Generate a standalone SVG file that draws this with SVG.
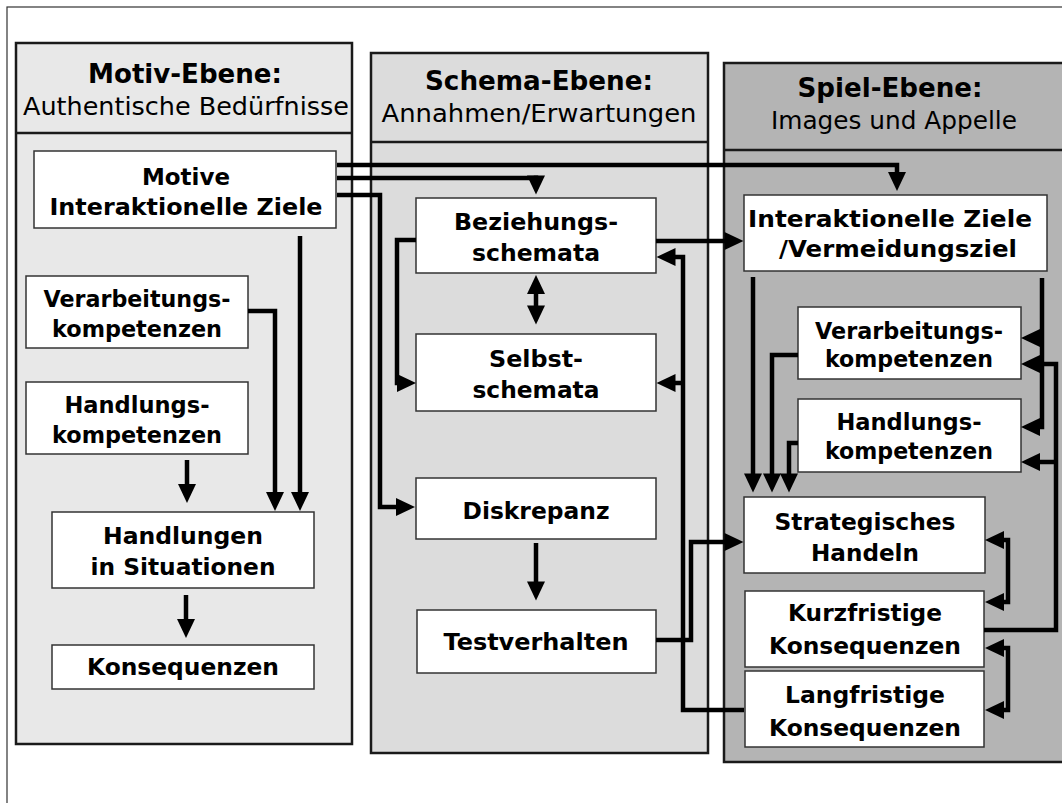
<svg xmlns="http://www.w3.org/2000/svg" width="1062" height="803" viewBox="0 0 1062 803">
<style>
.frame{fill:#fff;stroke:#333;stroke-width:1.2}
.panel{stroke:#1a1a1a;stroke-width:2.5}
.p1{fill:#e8e8e8}.p2{fill:#dcdcdc}.p3{fill:#b4b4b4}
.div{stroke:#1a1a1a;stroke-width:2.5}
.box{fill:#fff;stroke:#333;stroke-width:1.5}
text{font-family:"DejaVu Sans",Verdana,sans-serif;fill:#000;text-anchor:middle}
.t{font-size:23px;font-weight:bold}
.h{font-size:26px;font-weight:bold}
.s{font-size:25px}
.c{fill:none;stroke:#000;stroke-width:4.5;stroke-linejoin:miter}
</style>
<defs>
<marker id="ah" markerUnits="userSpaceOnUse" markerWidth="19" markerHeight="18" refX="0.5" refY="9" orient="auto-start-reverse" overflow="visible"><path d="M0,0 L19,9 L0,18 Z" fill="#000"/></marker>
</defs>
<rect x="0" y="0" width="1062" height="803" fill="#fff"/>
<rect class="frame" x="7" y="7" width="1100" height="900"/>

<g id="panel-motiv">
<rect class="panel p1" x="16" y="43" width="336" height="701"/>
<line class="div" x1="16" y1="133" x2="352" y2="133"/>
<text class="h" x="185" y="83" textLength="194" lengthAdjust="spacingAndGlyphs">Motiv-Ebene:</text>
<text class="s" x="186" y="115" textLength="326" lengthAdjust="spacingAndGlyphs">Authentische Bedürfnisse</text>
</g>
<g id="panel-schema">
<rect class="panel p2" x="371" y="53" width="337" height="700"/>
<line class="div" x1="371" y1="142" x2="708" y2="142"/>
<text class="h" x="539" y="90" textLength="228" lengthAdjust="spacingAndGlyphs">Schema-Ebene:</text>
<text class="s" x="539" y="122" textLength="315" lengthAdjust="spacingAndGlyphs">Annahmen/Erwartungen</text>
</g>
<g id="panel-spiel">
<rect class="panel p3" x="724" y="63" width="400" height="699"/>
<line class="div" x1="724" y1="150" x2="1124" y2="150"/>
<text class="h" x="890" y="97" textLength="185" lengthAdjust="spacingAndGlyphs">Spiel-Ebene:</text>
<text class="s" x="894" y="129" textLength="246" lengthAdjust="spacingAndGlyphs">Images und Appelle</text>
</g>

<g id="m-motive"><rect class="box" x="34" y="151" width="302" height="77"/>
<text class="t" x="186" y="185" textLength="88" lengthAdjust="spacingAndGlyphs">Motive</text>
<text class="t" x="186" y="215" textLength="273" lengthAdjust="spacingAndGlyphs">Interaktionelle Ziele</text></g>
<g id="m-verarb"><rect class="box" x="26" y="276" width="222" height="72"/>
<text class="t" x="137" y="307" textLength="187" lengthAdjust="spacingAndGlyphs">Verarbeitungs-</text>
<text class="t" x="137" y="337" textLength="170" lengthAdjust="spacingAndGlyphs">kompetenzen</text></g>
<g id="m-handl"><rect class="box" x="26" y="382" width="222" height="72"/>
<text class="t" x="137" y="413" textLength="145" lengthAdjust="spacingAndGlyphs">Handlungs-</text>
<text class="t" x="137" y="443" textLength="170" lengthAdjust="spacingAndGlyphs">kompetenzen</text></g>
<g id="m-handlungen"><rect class="box" x="52" y="512" width="262" height="76"/>
<text class="t" x="183" y="544" textLength="160" lengthAdjust="spacingAndGlyphs">Handlungen</text>
<text class="t" x="183" y="575" textLength="185" lengthAdjust="spacingAndGlyphs">in Situationen</text></g>
<g id="m-konseq"><rect class="box" x="52" y="645" width="262" height="44"/>
<text class="t" x="183" y="675" textLength="192" lengthAdjust="spacingAndGlyphs">Konsequenzen</text></g>

<g id="s-bez"><rect class="box" x="416" y="198" width="240" height="75"/>
<text class="t" x="536" y="230" textLength="164" lengthAdjust="spacingAndGlyphs">Beziehungs-</text>
<text class="t" x="536" y="261" textLength="128" lengthAdjust="spacingAndGlyphs">schemata</text></g>
<g id="s-selbst"><rect class="box" x="416" y="334" width="240" height="77"/>
<text class="t" x="536" y="367" textLength="94" lengthAdjust="spacingAndGlyphs">Selbst-</text>
<text class="t" x="536" y="398" textLength="127" lengthAdjust="spacingAndGlyphs">schemata</text></g>
<g id="s-diskr"><rect class="box" x="416" y="478" width="240" height="61"/>
<text class="t" x="536" y="519" textLength="147" lengthAdjust="spacingAndGlyphs">Diskrepanz</text></g>
<g id="s-test"><rect class="box" x="417" y="610" width="239" height="63"/>
<text class="t" x="536" y="650" textLength="185" lengthAdjust="spacingAndGlyphs">Testverhalten</text></g>

<g id="g-ziele"><rect class="box" x="744" y="195" width="303" height="76"/>
<text class="t" x="890" y="227" textLength="284" lengthAdjust="spacingAndGlyphs">Interaktionelle Ziele</text>
<text class="t" x="898" y="257" textLength="238" lengthAdjust="spacingAndGlyphs">/Vermeidungsziel</text></g>
<g id="g-verarb"><rect class="box" x="798" y="307" width="223" height="72"/>
<text class="t" x="909" y="339" textLength="188" lengthAdjust="spacingAndGlyphs">Verarbeitungs-</text>
<text class="t" x="909" y="367" textLength="168" lengthAdjust="spacingAndGlyphs">kompetenzen</text></g>
<g id="g-handl"><rect class="box" x="798" y="399" width="223" height="73"/>
<text class="t" x="909" y="430" textLength="145" lengthAdjust="spacingAndGlyphs">Handlungs-</text>
<text class="t" x="909" y="459" textLength="168" lengthAdjust="spacingAndGlyphs">kompetenzen</text></g>
<g id="g-strat"><rect class="box" x="744" y="497" width="241" height="76"/>
<text class="t" x="865" y="530" textLength="181" lengthAdjust="spacingAndGlyphs">Strategisches</text>
<text class="t" x="865" y="561" textLength="108" lengthAdjust="spacingAndGlyphs">Handeln</text></g>
<g id="g-kurz"><rect class="box" x="745" y="591" width="239" height="76"/>
<text class="t" x="865" y="621" textLength="154" lengthAdjust="spacingAndGlyphs">Kurzfristige</text>
<text class="t" x="865" y="654" textLength="192" lengthAdjust="spacingAndGlyphs">Konsequenzen</text></g>
<g id="g-lang"><rect class="box" x="745" y="671" width="239" height="76"/>
<text class="t" x="865" y="703" textLength="160" lengthAdjust="spacingAndGlyphs">Langfristige</text>
<text class="t" x="865" y="736" textLength="192" lengthAdjust="spacingAndGlyphs">Konsequenzen</text></g>

<g id="connectors">
<path class="c" d="M300,236 V492.5" marker-end="url(#ah)"/>
<path class="c" d="M248,311 H275 V492.5" marker-end="url(#ah)"/>
<path class="c" d="M187,460 V484.5" marker-end="url(#ah)"/>
<path class="c" d="M186,595 V619.5" marker-end="url(#ah)"/>
<path class="c" d="M337,165 H897 V172.5" marker-end="url(#ah)"/>
<path class="c" d="M337,178 H538.25 M536,175.5 V176" marker-end="url(#ah)"/>
<path class="c" d="M337,195 H380 V507 H396.5" marker-end="url(#ah)"/>
<path class="c" d="M536,293.5 V306" marker-start="url(#ah)" marker-end="url(#ah)"/>
<path class="c" d="M416,240 H397 V383 H397.5" marker-end="url(#ah)"/>
<path class="c" d="M744,710 H683 V257 H675" marker-end="url(#ah)"/>
<path class="c" d="M683,383 H675" marker-end="url(#ah)"/>
<path class="c" d="M656,241 H725" marker-end="url(#ah)"/>
<path class="c" d="M656,640 H691 V542 H725" marker-end="url(#ah)"/>
<path class="c" d="M536,543 V582" marker-end="url(#ah)"/>
<path class="c" d="M753,277 V474" marker-end="url(#ah)"/>
<path class="c" d="M798,355 H772 V474" marker-end="url(#ah)"/>
<path class="c" d="M798,443 H789 V474" marker-end="url(#ah)"/>
<path class="c" d="M1042,278 V427 H1039.5" marker-end="url(#ah)"/>
<path class="c" d="M1042,338 H1039.5" marker-end="url(#ah)"/>
<path class="c" d="M984,630 H1056 V364 H1039.5" marker-end="url(#ah)"/>
<path class="c" d="M1056,462 H1039.5" marker-end="url(#ah)"/>
<path class="c" d="M1003.5,540 H1008 V602 H1003.5" marker-start="url(#ah)" marker-end="url(#ah)"/>
<path class="c" d="M1003.5,648 H1008 V710 H1003.5" marker-start="url(#ah)" marker-end="url(#ah)"/>
</g>
</svg>
